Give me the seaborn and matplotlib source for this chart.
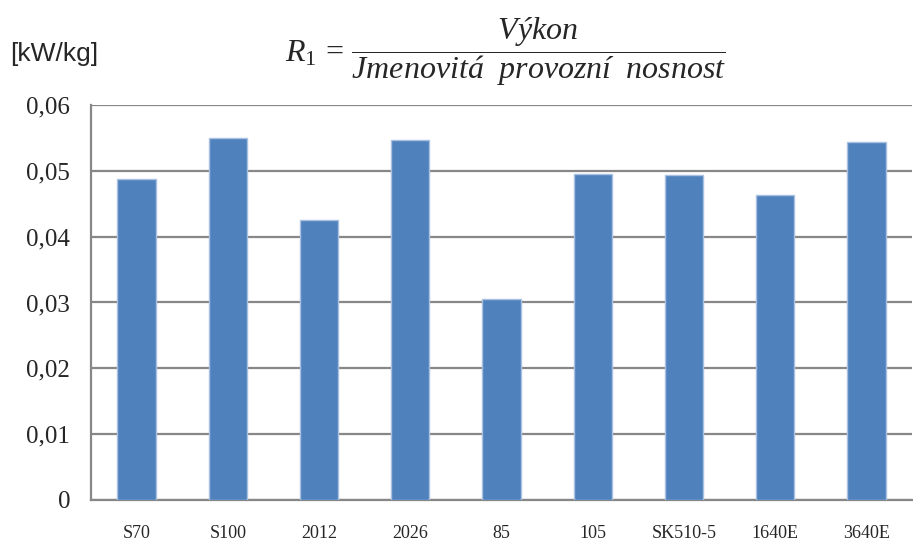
import numpy as np
import pandas as pd
import matplotlib
matplotlib.use("Agg")
import matplotlib.pyplot as plt
import seaborn as sns
from matplotlib.ticker import FuncFormatter, FixedLocator

# Data
categories = ["S70", "S100", "2012", "2026", "85", "105", "SK510-5", "1640E", "3640E"]
values = [0.0488, 0.0550, 0.0425, 0.0547, 0.0305, 0.0495, 0.0494, 0.0463, 0.0544]
y_ticks = [0, 0.01, 0.02, 0.03, 0.04, 0.05, 0.06]

df = pd.DataFrame({"typ": categories, "r1": values})

sns.set_style("white")
plt.rcParams["mathtext.fontset"] = "custom"
plt.rcParams["mathtext.rm"] = "Liberation Serif"
plt.rcParams["mathtext.it"] = "Liberation Serif:italic"

fig = plt.figure(figsize=(9.13, 5.45), dpi=100)
ax = fig.add_axes([0.0997, 0.0826, 0.8993, 0.7248])

grid_col = "#878787"
sns.barplot(data=df, x="typ", y="r1", color="#4F81BD", saturation=1,
            width=0.42, edgecolor="#A9C1E0", linewidth=1, ax=ax, zorder=3)

ax.set_xlim(-0.5, len(categories) - 0.5)
ax.set_ylim(0, 0.06)
ax.set_yticks(y_ticks)
ax.yaxis.set_major_formatter(FuncFormatter(lambda v, p: "0" if v == 0 else f"{v:.2f}".replace(".", ",")))
ax.grid(axis="y", color=grid_col, linewidth=1.6, zorder=0)
ax.set_axisbelow(True)

ax.set_xlabel("")
ax.set_ylabel("")
for s in ["top", "right"]:
    ax.spines[s].set_visible(False)
for s in ["left", "bottom"]:
    ax.spines[s].set_color(grid_col)
    ax.spines[s].set_linewidth(1.6)

ax.tick_params(axis="y", length=9, width=1.6, color=grid_col, pad=6,
               labelsize=18, labelfontfamily="Liberation Serif")
ax.tick_params(axis="x", which="major", length=0, pad=18,
               labelsize=13, labelfontfamily="Liberation Serif")
ax.xaxis.set_minor_locator(FixedLocator(np.arange(-0.5, len(categories), 1.0)))
ax.tick_params(axis="x", which="minor", length=7, width=1.2, color=grid_col)

# title formula and unit label
fig.text(0.011, 0.90, "[kW/kg]", fontsize=19, family="Liberation Sans", va="center", ha="left")
fig.text(0.312, 0.905, r"$R_1 \,=\, \dfrac{Výkon}{Jmenovitá\ \ provozní\ \ nosnost}$",
         fontsize=23, ha="left", va="center")

fig.savefig("out.png", dpi=100)
